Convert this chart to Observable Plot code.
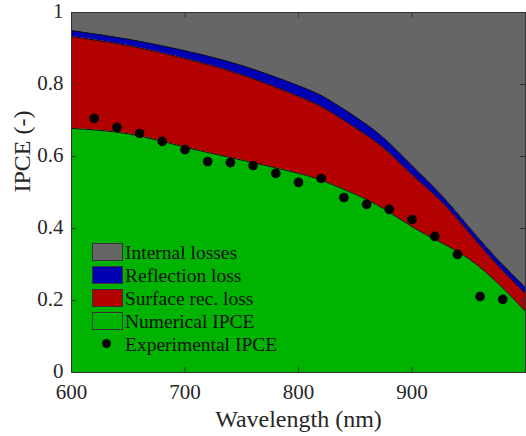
<!DOCTYPE html>
<html>
<head>
<meta charset="utf-8">
<script src="https://cdn.jsdelivr.net/npm/d3@7"></script>
<script src="https://cdn.jsdelivr.net/npm/@observablehq/plot@0.6"></script>
<style>
  html, body { margin: 0; padding: 0; background: #fff; }
  #wrap { position: relative; width: 526px; height: 436px; font-family: 'Liberation Serif', serif; }
  #legend { position: absolute; left: 0; top: 0; font-family: 'Liberation Serif', serif; }
  .row { position: absolute; left: 92px; height: 17px; display: flex; align-items: center; }
  .sw { width: 29px; height: 16px; border: 1px solid #333; box-sizing: content-box; }
  .lbl { position: absolute; left: 33px; top: 1px; font-family: 'Liberation Serif', serif; font-size: 19.5px; line-height: 17px; white-space: nowrap; color: #111; }
  .dotsw { width: 9px; height: 9px; border-radius: 50%; background: #000; margin-left: 10px; }
</style>
</head>
<body>
<div id="wrap"></div>
<script>
// ---- data ----
const wavelength = [600, 650, 700, 750, 800, 825, 850, 875, 900, 925, 950, 975, 1000];
const numericalIPCE   = [0.678, 0.663, 0.626, 0.590, 0.553, 0.528, 0.495, 0.455, 0.405, 0.362, 0.316, 0.250, 0.170];
const surfaceRecLoss  = [0.255, 0.245, 0.246, 0.237, 0.214, 0.202, 0.185, 0.169, 0.145, 0.116, 0.074, 0.050, 0.049];
const reflectionLoss  = [0.017, 0.018, 0.022, 0.026, 0.030, 0.031, 0.031, 0.028, 0.025, 0.018, 0.015, 0.016, 0.017];
const internalLosses  = [0.050, 0.074, 0.106, 0.147, 0.203, 0.239, 0.289, 0.348, 0.425, 0.504, 0.595, 0.684, 0.764];

const expWavelength = [620, 640, 660, 680, 700, 720, 740, 760, 780, 800, 820, 840, 860, 880, 900, 920, 940, 960, 980];
const expIPCE       = [0.706, 0.681, 0.664, 0.642, 0.619, 0.586, 0.583, 0.575, 0.553, 0.528, 0.539, 0.486, 0.467, 0.453, 0.425, 0.378, 0.328, 0.211, 0.203];

const seriesNames  = ["Numerical IPCE", "Surface rec. loss", "Reflection loss", "Internal losses"];
const seriesColors = ["#00b300", "#b30000", "#0000b3", "#666666"];
const xTickLabels = [600, 700, 800, 900];
const xTickMarks  = [600, 700, 800, 900, 1000];
const yTickMarks  = [0, 0.2, 0.4, 0.6, 0.8, 1];
const xLabel = "Wavelength (nm)";
const yLabel = "IPCE (-)";
const legendOrder = ["Internal losses", "Reflection loss", "Surface rec. loss", "Numerical IPCE"];
const expLabel = "Experimental IPCE";

// ---- build tidy table ----
const seriesValues = [numericalIPCE, surfaceRecLoss, reflectionLoss, internalLosses];
const rows = [];
seriesNames.forEach((s, k) => wavelength.forEach((w, i) => rows.push({wl: w, v: seriesValues[k][i], series: s})));
const expRows = expWavelength.map((w, i) => ({wl: w, v: expIPCE[i]}));

const ink = "#262626";
const serif = "Liberation Serif";
const chart = Plot.plot({
  width: 526,
  height: 436,
  marginLeft: 71,
  marginRight: 1,
  marginTop: 12,
  marginBottom: 64,
  style: {fontFamily: serif, fontSize: "21px", color: ink, background: "white", overflow: "visible"},
  x: {domain: [600, 1000]},
  y: {domain: [0, 1]},
  color: {domain: seriesNames, range: seriesColors},
  marks: [
    Plot.areaY(rows, {x: "wl", y: "v", z: "series", fill: "series", order: seriesNames, curve: "natural"}),
    Plot.lineY(rows, Plot.stackY2({x: "wl", y: "v", z: "series", order: seriesNames, curve: "natural", stroke: "#111", strokeWidth: 1})),
    Plot.dot(expRows, {x: "wl", y: "v", r: 4.8, fill: "#000", stroke: null}),
    Plot.frame({stroke: "#333", strokeWidth: 1}),
    Plot.ruleX(xTickMarks, {y1: 0, y2: 0.014, stroke: "#333"}),
    Plot.ruleX(xTickMarks, {y1: 0.986, y2: 1, stroke: "#333"}),
    Plot.ruleY(yTickMarks, {x1: 600, x2: 604.4, stroke: "#333"}),
    Plot.ruleY(yTickMarks, {x1: 995.6, x2: 1000, stroke: "#333"}),
    Plot.axisX(xTickLabels, {tickSize: 0, tickPadding: 12, tickFormat: d => String(d), label: null, fontFamily: serif}),
    Plot.axisY(yTickMarks, {tickSize: 0, tickPadding: 8, dy: -1, tickFormat: "~g", label: null, fontFamily: serif}),
    Plot.text([xLabel], {frameAnchor: "bottom", dy: 54, lineAnchor: "bottom", fontSize: 24, fill: ink, fontFamily: serif}),
    Plot.text([yLabel], {frameAnchor: "left", dx: -59, rotate: -90, lineAnchor: "top", fontSize: 24, fill: ink, fontFamily: serif})
  ]
});

const wrap = document.getElementById("wrap");
wrap.appendChild(chart);

// ---- legend overlay ----
const legend = document.createElement("div");
legend.id = "legend";
const rowTop0 = 243, rowStep = 23;
legendOrder.forEach((name, i) => {
  const r = document.createElement("div");
  r.className = "row";
  r.style.top = (rowTop0 + i * rowStep) + "px";
  const sw = document.createElement("div");
  sw.className = "sw";
  sw.style.background = seriesColors[seriesNames.indexOf(name)];
  const t = document.createElement("span");
  t.className = "lbl";
  t.textContent = name;
  r.appendChild(sw); r.appendChild(t);
  legend.appendChild(r);
});
{
  const r = document.createElement("div");
  r.className = "row";
  r.style.top = (rowTop0 + 4 * rowStep) + "px";
  const d = document.createElement("div");
  d.className = "dotsw";
  const t = document.createElement("span");
  t.className = "lbl";
  t.textContent = expLabel;
  r.appendChild(d); r.appendChild(t);
  legend.appendChild(r);
}
wrap.appendChild(legend);
</script>
</body>
</html>
